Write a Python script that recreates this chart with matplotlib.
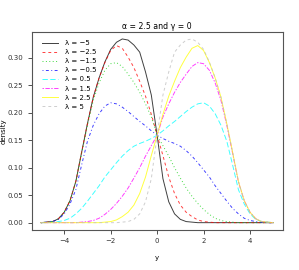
#!/usr/bin/env python3
"""
Density curves for alpha = 2.5, gamma = 0 and several lambda values
"""
import numpy as np
import matplotlib
matplotlib.use("Agg")
import matplotlib.pyplot as plt

# =============================================================================
# data (grid step 0.25 from -5 to 5)
# =============================================================================
y_grid = np.arange(-5.0, 5.0001, 0.25)

lambda_labels = ["λ = −5", "λ = −2.5", "λ = −1.5", "λ = −0.5",
                 "λ = 0.5", "λ = 1.5", "λ = 2.5", "λ = 5"]

dens_m5 = [0.000, 0.001, 0.002, 0.007, 0.019, 0.040, 0.075, 0.128, 0.180, 0.228,
           0.263, 0.292, 0.315, 0.328, 0.334, 0.332, 0.323, 0.310, 0.274, 0.232,
           0.159, 0.080, 0.038, 0.016, 0.006, 0.002, 0.001, 0.000, 0.000, 0.000,
           0.000, 0.000, 0.000, 0.000, 0.000, 0.000, 0.000, 0.000, 0.000, 0.000,
           0.000]
dens_m25 = [0.000, 0.001, 0.002, 0.007, 0.019, 0.040, 0.075, 0.128, 0.180, 0.228,
            0.263, 0.291, 0.313, 0.322, 0.317, 0.301, 0.282, 0.257, 0.230, 0.197,
            0.159, 0.122, 0.083, 0.053, 0.032, 0.019, 0.011, 0.005, 0.002, 0.001,
            0.000, 0.000, 0.000, 0.000, 0.000, 0.000, 0.000, 0.000, 0.000, 0.000,
            0.000]
dens_m15 = [0.000, 0.001, 0.002, 0.007, 0.019, 0.040, 0.074, 0.126, 0.177, 0.222,
            0.254, 0.277, 0.289, 0.291, 0.284, 0.270, 0.255, 0.237, 0.216, 0.192,
            0.159, 0.140, 0.121, 0.100, 0.081, 0.063, 0.048, 0.035, 0.024, 0.015,
            0.008, 0.004, 0.002, 0.001, 0.000, 0.000, 0.000, 0.000, 0.000, 0.000,
            0.000]
dens_m05 = [0.000, 0.001, 0.002, 0.006, 0.016, 0.034, 0.060, 0.105, 0.148, 0.177,
            0.198, 0.212, 0.218, 0.216, 0.210, 0.202, 0.193, 0.184, 0.176, 0.167,
            0.159, 0.153, 0.148, 0.144, 0.139, 0.131, 0.121, 0.109, 0.096, 0.083,
            0.067, 0.053, 0.039, 0.026, 0.016, 0.008, 0.004, 0.002, 0.001, 0.000,
            0.000]
dens_p05 = [0.000, 0.000, 0.001, 0.002, 0.004, 0.008, 0.016, 0.026, 0.039, 0.053,
            0.067, 0.083, 0.096, 0.109, 0.121, 0.131, 0.139, 0.144, 0.148, 0.153,
            0.159, 0.167, 0.176, 0.184, 0.193, 0.202, 0.210, 0.216, 0.218, 0.212,
            0.198, 0.177, 0.148, 0.105, 0.060, 0.034, 0.016, 0.006, 0.002, 0.001,
            0.000]
dens_p15 = [0.000, 0.000, 0.000, 0.000, 0.000, 0.000, 0.000, 0.001, 0.002, 0.004,
            0.008, 0.015, 0.024, 0.035, 0.048, 0.063, 0.081, 0.100, 0.121, 0.140,
            0.159, 0.192, 0.216, 0.237, 0.255, 0.270, 0.284, 0.291, 0.289, 0.277,
            0.254, 0.222, 0.177, 0.126, 0.074, 0.040, 0.019, 0.007, 0.002, 0.001,
            0.000]
dens_p25 = [0.000, 0.000, 0.000, 0.000, 0.000, 0.000, 0.000, 0.000, 0.000, 0.000,
            0.000, 0.001, 0.002, 0.005, 0.011, 0.019, 0.032, 0.053, 0.083, 0.122,
            0.159, 0.197, 0.230, 0.257, 0.282, 0.301, 0.317, 0.322, 0.313, 0.291,
            0.263, 0.228, 0.180, 0.128, 0.075, 0.040, 0.019, 0.007, 0.002, 0.001,
            0.000]
dens_p5 = [0.000, 0.000, 0.000, 0.000, 0.000, 0.000, 0.000, 0.000, 0.000, 0.000,
           0.000, 0.000, 0.000, 0.000, 0.001, 0.002, 0.006, 0.016, 0.038, 0.080,
           0.159, 0.232, 0.274, 0.310, 0.323, 0.332, 0.334, 0.328, 0.315, 0.292,
           0.263, 0.228, 0.180, 0.128, 0.075, 0.040, 0.019, 0.007, 0.002, 0.001,
           0.000]

curves = [dens_m5, dens_m25, dens_m15, dens_m05, dens_p05, dens_p15, dens_p25, dens_p5]

# R default palette and lty 1..8
colors = ["black", "#FF0000", "#00CD00", "#0000FF", "#00FFFF", "#FF00FF", "#FFFF00", "#BEBEBE"]
styles = ["-", (0, (3, 3)), (0, (1, 2.5)), (0, (1, 2.5, 3, 2.5)),
          (0, (5.5, 2.5)), (0, (1.5, 1.5, 4.5, 1.5)), "-", (0, (3, 3))]

# =============================================================================
# figure
# =============================================================================
fig = plt.figure(figsize=(2.99, 2.70), dpi=100)
ax = fig.add_axes([0.106, 0.148, 0.839, 0.735])

for dens, col, ls, lab in zip(curves, colors, styles, lambda_labels):
    ax.plot(y_grid, dens, color=col, linestyle=ls, linewidth=0.7, alpha=0.75, label=lab)

ax.set_xlim(-5.4, 5.4)
ax.set_ylim(-0.0134, 0.3474)
ax.set_xticks([-4, -2, 0, 2, 4])
ax.set_yticks([0.0, 0.05, 0.10, 0.15, 0.20, 0.25, 0.30])
ax.set_yticklabels([f"{v:.2f}" for v in ax.get_yticks()])
ax.tick_params(labelsize=5, length=3, width=0.6, colors="#333333", pad=3)

for spine in ax.spines.values():
    spine.set_linewidth(0.8)
    spine.set_color("#555555")

ax.set_xlabel("y", fontsize=5, labelpad=8)
ax.set_ylabel("density", fontsize=5)
ax.yaxis.set_label_coords(-0.098, 0.5)
ax.set_title("α = 2.5 and γ = 0", fontsize=5.6, pad=2)

ax.legend(loc="upper left", bbox_to_anchor=(39 / 299, 1 - 36.5 / 270),
          bbox_transform=fig.transFigure, frameon=False, fontsize=5,
          borderpad=0, labelspacing=0.45, handlelength=2.2, handletextpad=1.1)

fig.savefig("out.png", dpi=100)
print("saved out.png")
